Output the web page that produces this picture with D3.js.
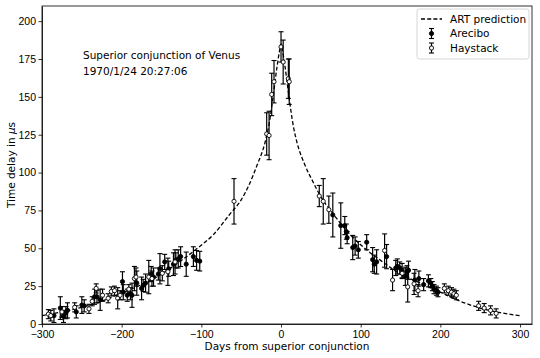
<!doctype html>
<html lang="en">
<head>
<meta charset="utf-8">
<title>Shapiro delay, Venus 1970</title>
<script src="https://d3js.org/d3.v7.min.js"></script>
<style>
  body { margin: 0; background: #fff; }
  svg { font-family: "DejaVu Sans", sans-serif; }
  .axis text { font-size: 10.5px; fill: #000; }
  .axis path, .axis line { stroke: #000; stroke-width: 0.8; }
</style>
</head>
<body>
<svg width="540" height="358"></svg>
<script>
// ART prediction
const curveDays  = [-300,-275,-250,-225,-200,-175,-150,-125,-105,-85,-65,-50,-40,-30,-20,-15,-10,-5,-2,0,2,5,10,15,20,30,40,50,65,85,105,125,150,175,200,225,250,275,300];
const curveDelay = [5.5,8,11,15,20.5,26,33,42,50,59,72,82,92,105,120,132,150,170,180,185,180,170,150,132,120,105,94,84,73,60,50,42,33,27,21,15,10.5,7.5,5.5];

// Arecibo: [day, delay, error]
const arecibo = [
  [-285,5.5,4.5],[-277,10.5,7.5],[-273,5,4],[-270,7.5,4],[-268,9,5],[-257,8,4],
  [-250,12.5,5.5],[-247,12,4],[-234,18,5],[-231,18,4],[-227,16,7],[-199,28,6.5],
  [-198,21,5],[-193,19,4],[-189,20,4],[-187,19,8],[-181,27,8],[-175,23.5,7.5],
  [-173,25.5,4],[-170,27,6],[-163,33,5],[-160,31,6],[-154,33,4],[-152,36.5,10],
  [-146,41,5],[-141,36.5,5],[-135,39.5,7.5],[-132,42,5],[-129,43,6],[-126,44.5,6.5],
  [-119,39.5,8],[-110,44.5,6.5],[-106,42,6.5],[-102,41.5,6.5],
  [65,72,14.5],[75,65,15],[80,65,6],[82,61,5],[83,57,4],[90,50.5,8],[93,51.5,6],
  [97,49,5.5],[107.5,54,5],[115,42.5,8],[117,39.5,6],[120,41,8],[132.5,44.5,8],
  [144,37,5],[146,38,5],[149,37,4],[152,35,5],[156,31.5,6],[158,34.5,4],[160,35.5,6],
  [168,29,7],[173,30,5],[179,26,4],[185,28.5,4],[188,27,3],[190,25,3],[192,23,3],
  [195,22,3],[197,21,3]
];

// Haystack: [day, delay, error]
const haystack = [
  [-292,6.5,3],[-289,5.5,3.5],[-275,8,3.5],[-259,11,3],[-241,10,3],[-237,15,3],
  [-232,23.5,3],[-224,19,4],[-217,17,3],[-213,21.5,3],[-209,22,3],[-205,17,7],
  [-202,19,3],[-191,23,3],[-184,30,8],[-182,31,6],[-166,31,11],[-162,30,5],
  [-149,33.5,5],[-142,34.5,9],[-133,41,8],[-59,81,15],
  [-18,125.5,14],[-15,124.5,16],[-11.7,151.6,14],[-8.8,160,14],[0,183,10],
  [2.7,173,14.5],[9.2,162,13],[10.3,160,15],
  [48,84.5,7],[53,81,15],[60,75.5,9],[130,48.5,11],[140,29,7],[152,33.5,3],
  [159,24.5,10],[167,26.5,7],[172,22,4],[205,23.5,3],[210,22,3],[214,21,3],
  [217,20,3],[220,19,3],[248,12,3],[255,10.5,3],[263,9,3],[270,7,3]
];

const xTicks = [-300,-200,-100,0,100,200,300];
const yTicks = [0,25,50,75,100,125,150,175,200];

const m = { left: 42, right: 532, top: 6, bottom: 324 };
const svg = d3.select("svg");

const x = d3.scaleLinear().domain([-300, 315]).range([m.left, m.right]);
const y = d3.scaleLinear().domain([0, 210]).range([m.bottom, m.top]);

svg.append("defs").append("clipPath").attr("id", "clip")
  .append("rect").attr("x", m.left).attr("y", m.top)
  .attr("width", m.right - m.left).attr("height", m.bottom - m.top);

const plot = svg.append("g").attr("clip-path", "url(#clip)");

// dashed prediction
const line = d3.line()
  .x((d, i) => x(curveDays[i]))
  .y(d => y(d))
  .curve(d3.curveMonotoneX);

plot.append("path")
  .attr("d", line(curveDelay))
  .attr("fill", "none")
  .attr("stroke", "#000")
  .attr("stroke-width", 1.3)
  .attr("stroke-dasharray", "4,2.2");

function drawSeries(data, filled) {
  let g = plot.append("g");
  let pts = g.selectAll("g").data(data).enter().append("g");
  pts.append("line")
    .attr("x1", d => x(d[0])).attr("x2", d => x(d[0]))
    .attr("y1", d => y(d[1] - d[2])).attr("y2", d => y(d[1] + d[2]))
    .attr("stroke", "#000").attr("stroke-width", 1.2);
  [-1, 1].forEach(s => {
    pts.append("line")
      .attr("x1", d => x(d[0]) - 2.5).attr("x2", d => x(d[0]) + 2.5)
      .attr("y1", d => y(d[1] + s * d[2])).attr("y2", d => y(d[1] + s * d[2]))
      .attr("stroke", "#000").attr("stroke-width", 1.1);
  });
  pts.append("circle")
    .attr("cx", d => x(d[0])).attr("cy", d => y(d[1]))
    .attr("r", 2.1)
    .attr("fill", filled ? "#000" : "#fff")
    .attr("stroke", "#000").attr("stroke-width", 0.9);
}
drawSeries(arecibo, true);
drawSeries(haystack, false);

// axes
svg.append("g").attr("class", "axis")
  .attr("transform", "translate(0," + m.bottom + ")")
  .call(d3.axisBottom(x).tickValues(xTicks).tickSize(3.5).tickPadding(3.5).tickSizeOuter(0));
svg.append("g").attr("class", "axis")
  .attr("transform", "translate(" + m.left + ",0)")
  .call(d3.axisLeft(y).tickValues(yTicks).tickSize(3.5).tickPadding(2.5).tickSizeOuter(0));

// frame
svg.append("rect")
  .attr("x", m.left).attr("y", m.top)
  .attr("width", m.right - m.left).attr("height", m.bottom - m.top)
  .attr("fill", "none").attr("stroke", "#000").attr("stroke-width", 0.8);

// labels
svg.append("text")
  .attr("x", (m.left + m.right) / 2).attr("y", 350)
  .attr("text-anchor", "middle").attr("font-size", "10.5px")
  .text("Days from superior conjunction");

let yl = svg.append("text")
  .attr("transform", "translate(15," + ((m.top + m.bottom) / 2) + ") rotate(-90)")
  .attr("text-anchor", "middle").attr("font-size", "10.5px");
yl.append("tspan").text("Time delay in ");
yl.append("tspan").attr("font-style", "italic").text("μ");
yl.append("tspan").text("s");

// annotation
svg.append("text").attr("x", 83).attr("y", 59).attr("font-size", "10.5px")
  .text("Superior conjunction of Venus");
svg.append("text").attr("x", 83).attr("y", 75).attr("font-size", "10.5px")
  .text("1970/1/24 20:27:06");

// legend
let lg = svg.append("g");
lg.append("rect")
  .attr("x", 417).attr("y", 9).attr("width", 112).attr("height", 50).attr("rx", 2.5)
  .attr("fill", "#fff").attr("fill-opacity", 0.8)
  .attr("stroke", "#ccc").attr("stroke-width", 0.8);
lg.append("line").attr("x1", 421).attr("x2", 442).attr("y1", 19).attr("y2", 19)
  .attr("stroke", "#000").attr("stroke-width", 1.3).attr("stroke-dasharray", "4,2.2");
[[33.5, true], [48, false]].forEach(([cy, filled]) => {
  lg.append("line").attr("x1", 431.5).attr("x2", 431.5).attr("y1", cy - 5).attr("y2", cy + 5)
    .attr("stroke", "#000").attr("stroke-width", 1.2);
  [-5, 5].forEach(o => lg.append("line")
    .attr("x1", 429).attr("x2", 434).attr("y1", cy + o).attr("y2", cy + o)
    .attr("stroke", "#000").attr("stroke-width", 1.1));
  lg.append("circle").attr("cx", 431.5).attr("cy", cy).attr("r", 2.1)
    .attr("fill", filled ? "#000" : "#fff").attr("stroke", "#000").attr("stroke-width", 0.9);
});
[["ART prediction", 19], ["Arecibo", 33.5], ["Haystack", 48]].forEach(([t, cy]) => {
  lg.append("text").attr("x", 450).attr("y", cy + 3.8).attr("font-size", "10.5px").text(t);
});
</script>
</body>
</html>
